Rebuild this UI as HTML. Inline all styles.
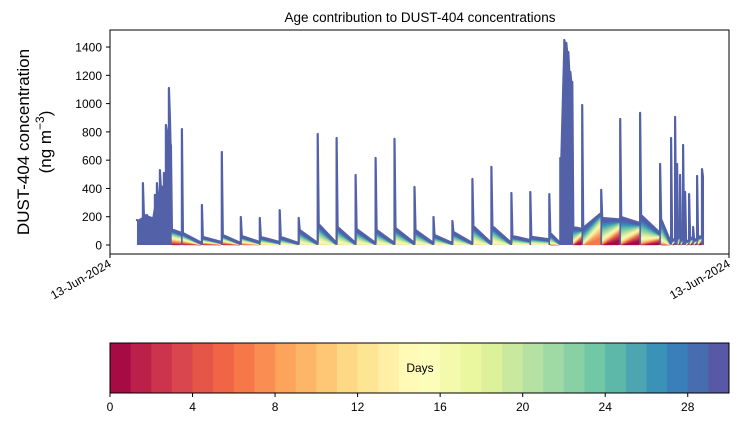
<!DOCTYPE html>
<html><head><meta charset="utf-8">
<style>
body{margin:0;background:#fff;}
svg{display:block;font-family:"Liberation Sans",sans-serif;}
</style></head>
<body>
<svg id="chart" width="739" height="425" viewBox="0 0 739 425">
<text x="420" y="22" font-size="13.5" text-anchor="middle">Age contribution to DUST-404 concentrations</text>
<g id="plot"></g>
<rect x="110" y="30" width="619" height="224" fill="none" stroke="#000" stroke-width="1"/>
<g id="yaxis"></g>
<text transform="translate(29,142) rotate(-90)" font-size="17" text-anchor="middle">DUST-404 concentration</text>
<text transform="translate(51,142) rotate(-90)" font-size="17" text-anchor="middle">(ng m<tspan dy="-7" font-size="12">−3</tspan><tspan dy="7">)</tspan></text>
<g>
<line x1="110" y1="254" x2="110" y2="258" stroke="#000"/>
<line x1="729" y1="254" x2="729" y2="258" stroke="#000"/>
<text transform="translate(112,266) rotate(-30)" font-size="12" text-anchor="end">13-Jun-2024</text>
<text transform="translate(731,266) rotate(-30)" font-size="12" text-anchor="end">13-Jun-2024</text>
</g>
<g id="cbar"></g>
<text x="420" y="372" font-size="12" text-anchor="middle">Days</text>
</svg>
<script>
// ---- data ----
const spikeT = [27,33,37,42,45,47,50,54,56,59,61,72,92,112,131,150,170,189,208,227,246,266,285,305,324,343,363,382,402,421,440,451,455,457,459,461,463,473,492,511,531,551,562,566,568,571,574,576,580,584,588,593];
const spikePeak = [177,438,212,170,354,438,530,509,849,1110,707,820,283,658,198,191,247,191,785,757,495,615,750,410,198,170,467,552,368,375,360,615,1450,1430,1365,1224,1153,990,390,891,934,573,757,905,573,495,707,375,360,127,488,537];
const tailStart = [170,210,200,170,300,340,400,420,700,900,110,85,57,71,64,57,57,106,148,127,113,106,120,106,71,92,134,134,64,57,85,600,1400,1350,1220,1150,127,120,191,198,212,184,40,50,60,40,40,30,50,40,60,480];
const tailEnd = [190,210,190,260,340,380,420,500,850,600,85,14,21,14,21,21,14,14,14,14,14,14,14,14,14,14,14,14,35,40,14,1400,1400,1350,1220,1150,113,226,180,155,85,14,40,50,60,40,30,30,50,40,60,480];
const ageMin = [26,26,26,26,26,26,26,26,26,26,0,0,0,0,4,10,12,12,12,12,12,12,12,12,12,12,12,12,12,12,0,26,26,26,26,26,0,6,0,0,0,0,0,0,0,0,0,0,0,0,0,0];
const tailSkew = [0,0,0,0,0,0,0,0,0,0,0,0,0,0,0,0,0,0,0,0,0,0,0,0,0,0,0,0,0,0,1,0,0,0,0,0,1,1,1,1,1,1,1,1,1,1,1,1,1,1,1,0];
const yTicks = [0,200,400,600,800,1000,1200,1400];
const cbTicks = [0,4,8,12,16,20,24,28];
const nDays = 30;

const NS="http://www.w3.org/2000/svg";
const X0=110,X1=729,Y0=245,YS=0.1414,TMAX=620;
const xs=t=>X0+t*(X1-X0)/TMAX;
const ys=v=>Y0-v*YS;
const spectral=["#9e0142","#d53e4f","#f46d43","#fdae61","#fee08b","#ffffbf","#e6f598","#abdda4","#66c2a5","#3288bd","#5e4fa2"];
function hex(h){return [1,3,5].map(i=>parseInt(h.substr(i,2),16));}
function cmap(f){f=Math.max(0,Math.min(1,f));const p=f*10,i=Math.min(9,Math.floor(p)),r=p-i;const a=hex(spectral[i]),b=hex(spectral[i+1]);return "rgb("+a.map((c,k)=>Math.round(c+(b[k]-c)*r)).join(",")+")";}
function mk(tag,attrs,parent){const e=document.createElementNS(NS,tag);for(const k in attrs)e.setAttribute(k,attrs[k]);parent.appendChild(e);return e;}

const plot=document.getElementById('plot');
const blue="#5361a8";
let pts=[];
for(let i=0;i<spikeT.length;i++){
  const t=spikeT[i];
  const prev=i===0?tailStart[0]:tailEnd[i-1];
  pts.push([t,prev],[t,spikePeak[i]],[t+1,tailStart[i]]);
  const tn=i<spikeT.length-1?spikeT[i+1]:t+2;
  pts.push([tn,tailEnd[i]]);
}
const poly=pts.map(p=>xs(p[0]).toFixed(1)+","+ys(p[1]).toFixed(1));
const area=mk('polygon',{points:xs(pts[0][0])+","+ys(0)+" "+poly.join(" ")+" "+xs(pts[pts.length-1][0])+","+ys(0),fill:blue},plot);


// age bands in each tail
for(let i=0;i<spikeT.length;i++){
  const t=spikeT[i]+1,tn=i<spikeT.length-1?spikeT[i+1]:spikeT[i]+2;
  if(tn-t<2)continue;
  const a0=ageMin[i];
  if(a0>=26)continue;
  const vs=Math.max(0,tailStart[i]-10),ve=Math.max(0,tailEnd[i]-10);
  const pS=tailSkew[i]?2.2:1,pE=tailSkew[i]?0.45:1;
  const nb=nDays-a0;
  for(let k=0;k<nb;k++){
    const u0=k/nb,u1=(k+1)/nb;
    const xa=xs(t),xb=xs(tn)-1;
    const pointsStr=`${xa},${ys(vs*Math.pow(u0,pS))} ${xa},${ys(vs*Math.pow(u1,pS))} ${xb},${ys(ve*Math.pow(u1,pE))} ${xb},${ys(ve*Math.pow(u0,pE))}`;
    const p=mk('polygon',{points:pointsStr,fill:cmap((a0+k+0.5)/nDays),stroke:cmap((a0+k+0.5)/nDays),"stroke-width":0.3},plot);
    
    
  }
}
const line=mk('polyline',{points:poly.join(" "),fill:"none",stroke:blue,"stroke-width":2.2,"stroke-linejoin":"round"},plot);



const ya=document.getElementById('yaxis');
yTicks.forEach(v=>{
  const l=mk('line',{x1:106,x2:110,y1:ys(v),y2:ys(v),stroke:"#000"},ya);
  
  
  const tx=mk('text',{x:102,y:ys(v)+4.5,"font-size":12,"text-anchor":"end"},ya);
  tx.textContent=v;
  
  
});
const cb=document.getElementById('cbar');
const CX0=110,CX1=729,CY=343,CH=50,cw=(CX1-CX0)/nDays;
for(let i=0;i<nDays;i++){
  const r=mk('rect',{x:CX0+i*cw,y:CY,width:cw+0.5,height:CH,fill:cmap((i+0.5)/nDays)},cb);
  
  
}
mk('rect',{x:CX0,y:CY,width:CX1-CX0,height:CH,fill:"none",stroke:"#000"},cb);
cbTicks.forEach(v=>{
  const x=CX0+v*cw;
  const l=mk('line',{x1:x,x2:x,y1:CY+CH,y2:CY+CH+4,stroke:"#000"},cb);
  
  
  const tx=mk('text',{x:x,y:CY+CH+18,"font-size":12,"text-anchor":"middle"},cb);
  tx.textContent=v;
  
  
});
</script>
</body></html>
